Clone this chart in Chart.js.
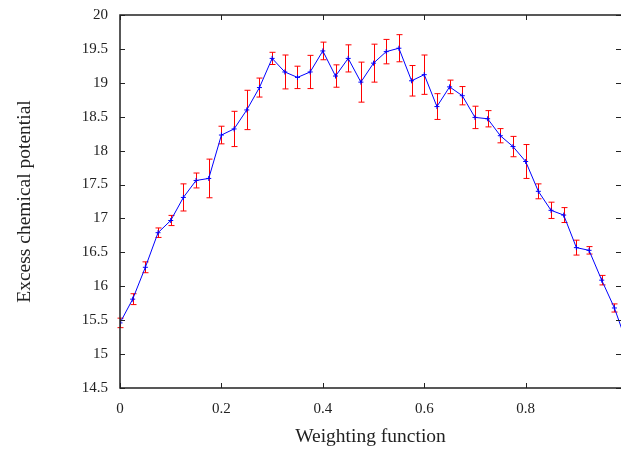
<!DOCTYPE html>
<html>
<head>
<meta charset="utf-8">
<script src="https://cdn.jsdelivr.net/npm/chart.js@4.4.1/dist/chart.umd.min.js"></script>
<style>
  html, body { margin: 0; padding: 0; background: #fff; }
  #wrap { width: 621px; height: 449px; }
</style>
</head>
<body>
<div id="wrap"><canvas id="chart" width="621" height="449"></canvas></div>
<script>
// weighting function values (x)
const weights = [0, 0.025, 0.05, 0.075, 0.1, 0.125, 0.15, 0.175, 0.2, 0.225,
  0.25, 0.275, 0.3, 0.325, 0.35, 0.375, 0.4, 0.425, 0.45, 0.475,
  0.5, 0.525, 0.55, 0.575, 0.6, 0.625, 0.65, 0.675, 0.7, 0.725,
  0.75, 0.775, 0.8, 0.825, 0.85, 0.875, 0.9, 0.925, 0.95, 0.975, 1.0];

// excess chemical potential
const potential = [15.46, 15.81, 16.28, 16.79, 16.97, 17.31, 17.56, 17.59, 18.23, 18.32,
  18.60, 18.93, 19.36, 19.16, 19.08, 19.16, 19.47, 19.10, 19.36, 19.01,
  19.29, 19.46, 19.51, 19.03, 19.12, 18.65, 18.94, 18.81, 18.49, 18.47,
  18.22, 18.06, 17.84, 17.40, 17.12, 17.05, 16.57, 16.53, 16.09, 15.68, 15.15];

// error bar half widths
const errors = [0.07, 0.08, 0.08, 0.07, 0.075, 0.2, 0.11, 0.285, 0.13, 0.26,
  0.29, 0.14, 0.09, 0.25, 0.165, 0.245, 0.13, 0.165, 0.2, 0.295,
  0.28, 0.18, 0.2, 0.225, 0.29, 0.19, 0.1, 0.135, 0.165, 0.12,
  0.105, 0.15, 0.25, 0.11, 0.12, 0.11, 0.11, 0.055, 0.07, 0.06, 0.05];

const xTicks = [0, 0.2, 0.4, 0.6, 0.8];
const yTicks = [14.5, 15, 15.5, 16, 16.5, 17, 17.5, 18, 18.5, 19, 19.5, 20];

const FONT = '"Liberation Serif", "DejaVu Serif", serif';

// red error bars under the line
const errorBars = {
  id: 'errorBars',
  beforeDatasetsDraw(chart) {
    const { ctx, chartArea, scales: { x, y } } = chart;
    ctx.save();
    ctx.beginPath();
    ctx.rect(0, 0, chartArea.right, chart.height);
    ctx.clip();
    ctx.strokeStyle = '#ff0000';
    ctx.lineWidth = 1;
    weights.forEach((w, i) => {
      const px = Math.round(x.getPixelForValue(w)) + 0.5;
      const top = y.getPixelForValue(potential[i] + errors[i]);
      const bot = y.getPixelForValue(potential[i] - errors[i]);
      ctx.beginPath();
      ctx.moveTo(px, top); ctx.lineTo(px, bot);
      ctx.moveTo(px - 3, top); ctx.lineTo(px + 3, top);
      ctx.moveTo(px - 3, bot); ctx.lineTo(px + 3, bot);
      ctx.stroke();
    });
    ctx.restore();
  }
};

// gnuplot style frame with inward ticks (right edge falls off the canvas)
const frame = {
  id: 'frame',
  afterDraw(chart) {
    const { ctx, chartArea: a, scales: { x, y } } = chart;
    ctx.save();
    ctx.strokeStyle = '#222';
    ctx.lineWidth = 1.5;
    ctx.beginPath();
    ctx.moveTo(chart.width + 2, a.top);
    ctx.lineTo(a.left, a.top);
    ctx.lineTo(a.left, a.bottom);
    ctx.lineTo(chart.width + 2, a.bottom);
    ctx.stroke();
    ctx.lineWidth = 1;
    ctx.beginPath();
    xTicks.forEach(v => {
      const px = Math.round(x.getPixelForValue(v)) + 0.5;
      ctx.moveTo(px, a.bottom); ctx.lineTo(px, a.bottom - 5);
      ctx.moveTo(px, a.top); ctx.lineTo(px, a.top + 5);
    });
    yTicks.forEach(v => {
      const py = Math.round(y.getPixelForValue(v)) + 0.5;
      ctx.moveTo(a.left, py); ctx.lineTo(a.left + 5, py);
      ctx.moveTo(a.right, py); ctx.lineTo(a.right - 5, py);
    });
    ctx.stroke();
    ctx.restore();
  }
};

new Chart(document.getElementById('chart'), {
  type: 'scatter',
  data: {
    datasets: [{
      data: weights.map((w, i) => ({ x: w, y: potential[i] })),
      showLine: true,
      borderColor: '#0000ff',
      borderWidth: 1,
      pointStyle: 'cross',
      pointRadius: 2.5,
      pointBorderColor: '#0000ff',
      pointBorderWidth: 1,
      pointHoverRadius: 2.5
    }]
  },
  options: {
    responsive: false,
    animation: false,
    layout: { autoPadding: false, padding: { top: 15, right: 0, left: 0, bottom: 0 } },
    plugins: { legend: { display: false }, tooltip: { enabled: false } },
    scales: {
      x: {
        type: 'linear',
        min: 0,
        max: 0.988,
        grid: { display: false, drawTicks: false },
        border: { display: false },
        afterBuildTicks: s => { s.ticks = xTicks.map(v => ({ value: v })); },
        afterFit: s => { s.height = 61; s.paddingLeft = 0; s.paddingRight = 0; },
        ticks: {
          color: '#222',
          padding: 12,
          maxRotation: 0,
          font: { family: FONT, size: 15 },
          callback: v => String(v)
        },
        title: {
          display: true,
          text: 'Weighting function',
          color: '#222',
          font: { family: FONT, size: 19.5 },
          padding: { top: 0, bottom: 0 }
        }
      },
      y: {
        type: 'linear',
        min: 14.5,
        max: 20,
        grid: { display: false, drawTicks: false },
        border: { display: false },
        afterBuildTicks: s => { s.ticks = yTicks.map(v => ({ value: v })); },
        afterFit: s => { s.width = 120; s.paddingTop = 0; s.paddingBottom = 0; },
        ticks: {
          color: '#222',
          padding: 12,
          font: { family: FONT, size: 15 },
          callback: v => String(v)
        },
        title: {
          display: true,
          text: 'Excess chemical potential',
          color: '#222',
          font: { family: FONT, size: 19.5 },
          padding: { top: 13, bottom: 0 }
        }
      }
    }
  },
  plugins: [errorBars, frame]
});
</script>
</body>
</html>
